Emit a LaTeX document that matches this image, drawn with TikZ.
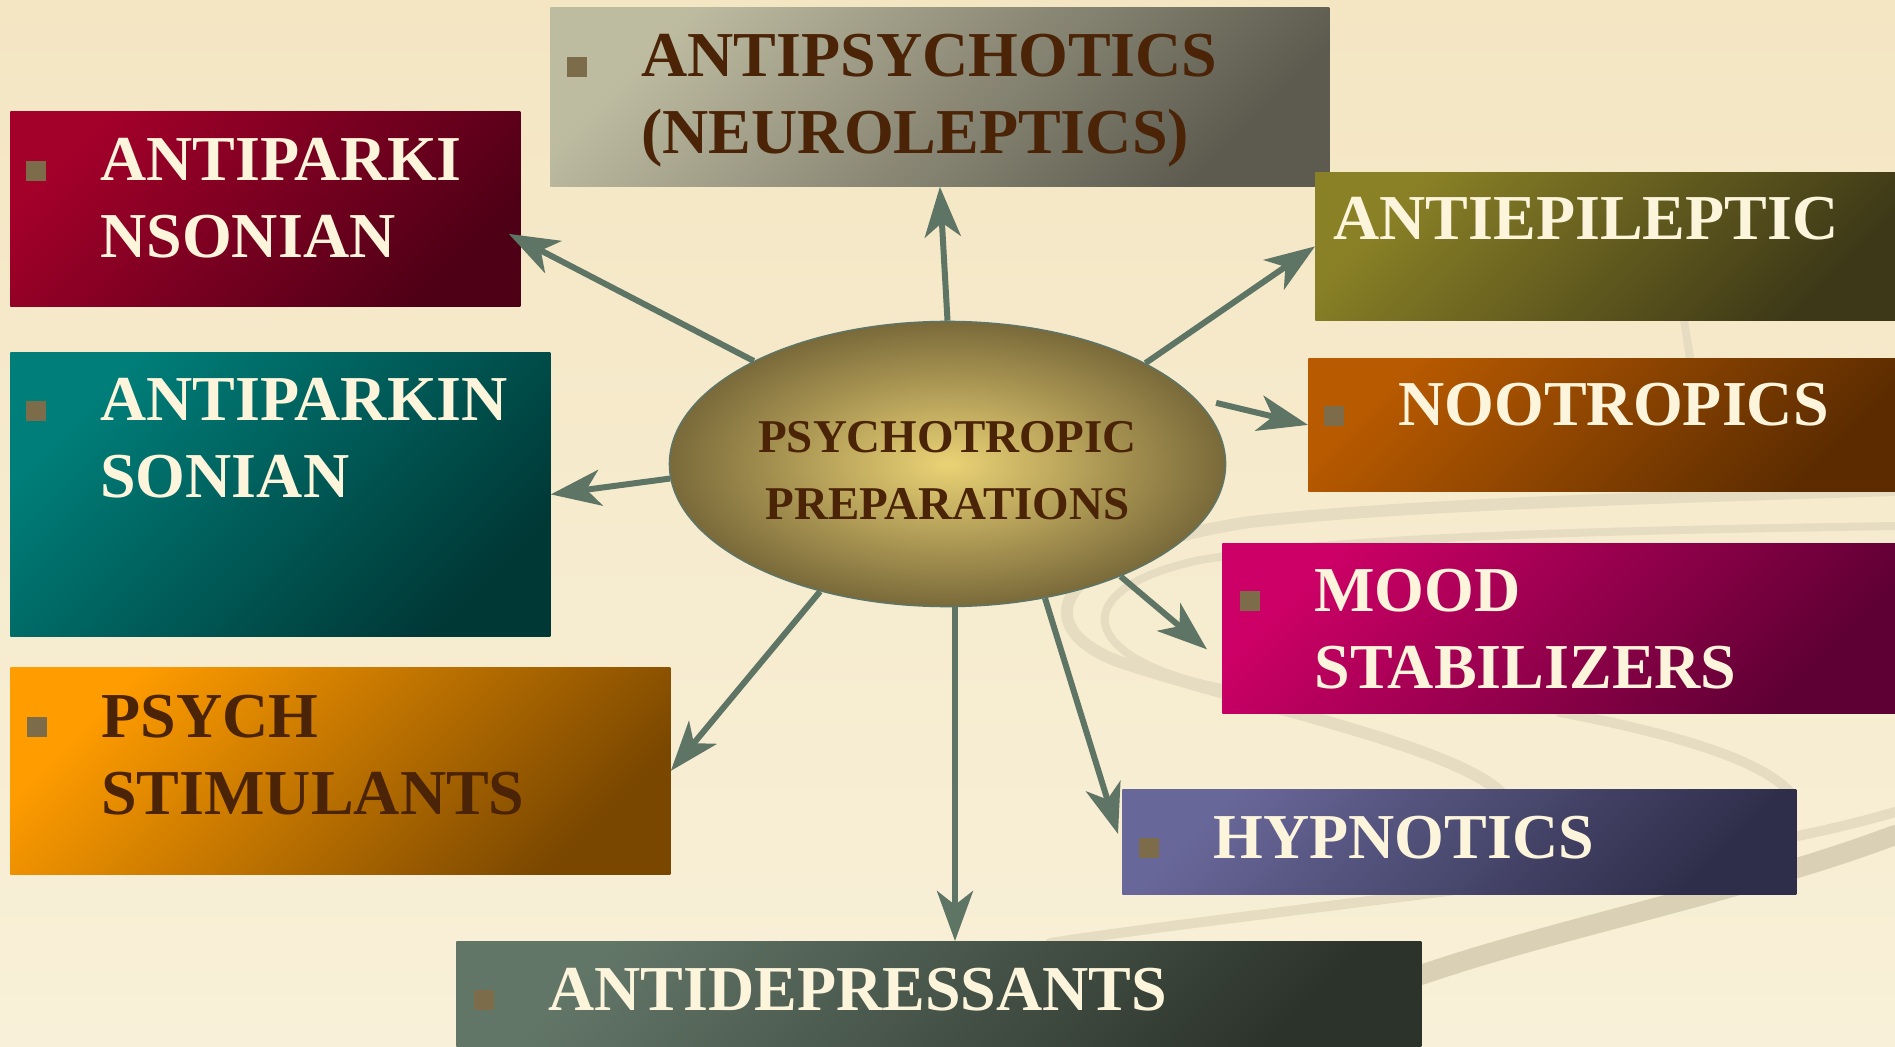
\documentclass[tikz,border=0pt]{standalone}
\usepackage{fontspec}
\setmainfont{Liberation Serif}
\usetikzlibrary{shapes.geometric,arrows.meta,calc}

\definecolor{paperTop}{HTML}{F4E6C3}
\definecolor{paperBot}{HTML}{F8F0D8}
\definecolor{swoosh}{HTML}{E6DCC2}
\definecolor{swooshDark}{HTML}{DAD0B5}
\definecolor{arrowc}{HTML}{5E7464}
\definecolor{cream}{HTML}{FCF5DC}
\definecolor{brown}{HTML}{4B2307}
\definecolor{bulletc}{HTML}{7C6C49}
\definecolor{goldIn}{HTML}{EAD275}
\definecolor{goldOut}{HTML}{7A6A3A}
\definecolor{greyA}{HTML}{BDBBA0}
\definecolor{greyB}{HTML}{5D5B4F}
\definecolor{wineA}{HTML}{A3002A}
\definecolor{wineB}{HTML}{4E0016}
\definecolor{tealA}{HTML}{007F7A}
\definecolor{tealB}{HTML}{003836}
\definecolor{amberA}{HTML}{FF9C00}
\definecolor{amberB}{HTML}{7A4700}
\definecolor{slateA}{HTML}{627668}
\definecolor{slateB}{HTML}{2C332B}
\definecolor{indigoA}{HTML}{686799}
\definecolor{indigoB}{HTML}{2F2E4A}
\definecolor{pinkA}{HTML}{CC0066}
\definecolor{pinkB}{HTML}{5E0033}
\definecolor{rustA}{HTML}{B85A00}
\definecolor{rustB}{HTML}{5C2C00}
\definecolor{oliveA}{HTML}{8A8126}
\definecolor{oliveB}{HTML}{3D3817}

\tikzset{
  box/.style 2 args={rectangle, inner sep=0pt, anchor=north west,
    top color=#1, bottom color=#2, shading angle=45},
  lbl/.style={anchor=base west, inner sep=0pt, align=left,
    font=\bfseries\fontsize{32}{38.5}\selectfont},
  arr/.style={draw=arrowc, line width=3pt,
    -{Stealth[length=25pt,width=18pt,inset=7pt]}},
}

\begin{document}
\begin{tikzpicture}[x=0.5pt,y=-0.5pt]
            \useasboundingbox (0,0) rectangle (1895,1047);
            \shade[top color=paperTop, bottom color=paperBot] (0,0) rectangle (1895,1047);
            % background swooshes
            \begin{scope}[line cap=round]
                \draw[swoosh, line width=6pt] (1895,490) .. controls (1650,498) and (1400,505) .. (1250,522)
                    .. controls (1060,550) and (1020,625) .. (1120,662)
                    .. controls (1250,705) and (1450,745) .. (1500,792);
                \draw[swoosh, line width=4pt] (1895,526) .. controls (1650,530) and (1350,535) .. (1200,560)
                    .. controls (1060,590) and (1080,660) .. (1222,688);
                \draw[swoosh, line width=5pt] (1560,712) .. controls (1680,735) and (1760,760) .. (1790,792);
                \draw[swoosh, line width=4pt] (1684,320) -- (1690,358);
                \draw[swoosh, line width=5pt] (1050,943) .. controls (1300,905) and (1700,870) .. (1895,812);
                \draw[swooshDark, line width=10pt] (1421,975) .. controls (1550,930) and (1750,890) .. (1895,835);
            \end{scope}
            % centre
            \node[ellipse, draw=arrowc, line width=0.8pt, inner color=goldIn, outer color=goldOut,
                minimum width=278pt, minimum height=142.5pt] (psy) at (947.5,464) {};
            \node[align=center, text=brown, font=\bfseries\fontsize{23.5}{33.5}\selectfont]
                (psy-t) at ($(psy.center)+(0,7)$) {PSYCHOTROPIC\\PREPARATIONS};
            % boxes
            \node[box={greyA}{greyB}, minimum width=389.5pt, minimum height=89.5pt] (antipsy) at (550,7) {};
            \node[box={wineA}{wineB}, minimum width=255pt, minimum height=97.5pt] (antiparki) at (10,111) {};
            \node[box={tealA}{tealB}, minimum width=270pt, minimum height=142pt] (antiparkin) at (10,352) {};
            \node[box={amberA}{amberB}, minimum width=330pt, minimum height=103.5pt] (psych) at (10,667) {};
            \node[box={slateA}{slateB}, minimum width=482.5pt, minimum height=53pt] (antidep) at (456,941) {};
            \node[box={indigoA}{indigoB}, minimum width=337pt, minimum height=52.5pt] (hypno) at (1122,789) {};
            \node[box={pinkA}{pinkB}, minimum width=336.5pt, minimum height=85pt] (mood) at (1222,543) {};
            \node[box={rustA}{rustB}, minimum width=293.5pt, minimum height=66.5pt] (noot) at (1308,358) {};
            \node[box={oliveA}{oliveB}, minimum width=290pt, minimum height=74pt] (antiepi) at (1315,172) {};
            % labels (base = last line)
            \node[lbl, text=brown] (antipsy-t) at (641,154) {ANTIPSYCHOTICS\\(NEUROLEPTICS)};
            \node[lbl, text=cream] (antiparki-t) at (100,258) {ANTIPARKI\\NSONIAN};
            \node[lbl, text=cream] (antiparkin-t) at (100,498) {ANTIPARKIN\\SONIAN};
            \node[lbl, text=brown] (psych-t) at (101,814) {PSYCH\\STIMULANTS};
            \node[lbl, text=cream] (antidep-t) at (548,1010) {ANTIDEPRESSANTS};
            \node[lbl, text=cream] (hypno-t) at (1213,858) {HYPNOTICS};
            \node[lbl, text=cream] (mood-t) at (1314,688) {MOOD\\STABILIZERS};
            \node[lbl, text=cream] (noot-t) at (1398,426) {NOOTROPICS};
            \node[lbl, text=cream] (antiepi-t) at (1333,240) {ANTIEPILEPTIC};
            \foreach \n/\k in {antipsy-t/1,antiparki-t/1,antiparkin-t/1,psych-t/1,antidep-t/0,hypno-t/0,mood-t/1,noot-t/0}
                \fill[bulletc] ($(\n.base west)+(-74,-77*\k)$) rectangle ++(20,-20);
            % arrows
            \draw[arr] (psy.north) -- (antipsy.south);
            \draw[arr] (psy.152) -- ($(antiparki.east)+(-12,25)$);
            \draw[arr] (psy.183.3) -- (antiparkin.east);
            \draw[arr] (psy.225.3) -- (psych.east);
            \draw[arr] (psy.273) -- (psy.273 |- antidep.north);
            \draw[arr] (psy.306.5) -- ($(hypno.west)+(-4,-8)$);
            \draw[arr] (psy.327) -- ($(mood.west)+(-15,21)$);
            \draw[arr, shorten <=11pt] (psy.15) -- (noot.west);
            \draw[arr] (psy.27.9) -- (antiepi.west);
        \end{tikzpicture}
\end{document}
